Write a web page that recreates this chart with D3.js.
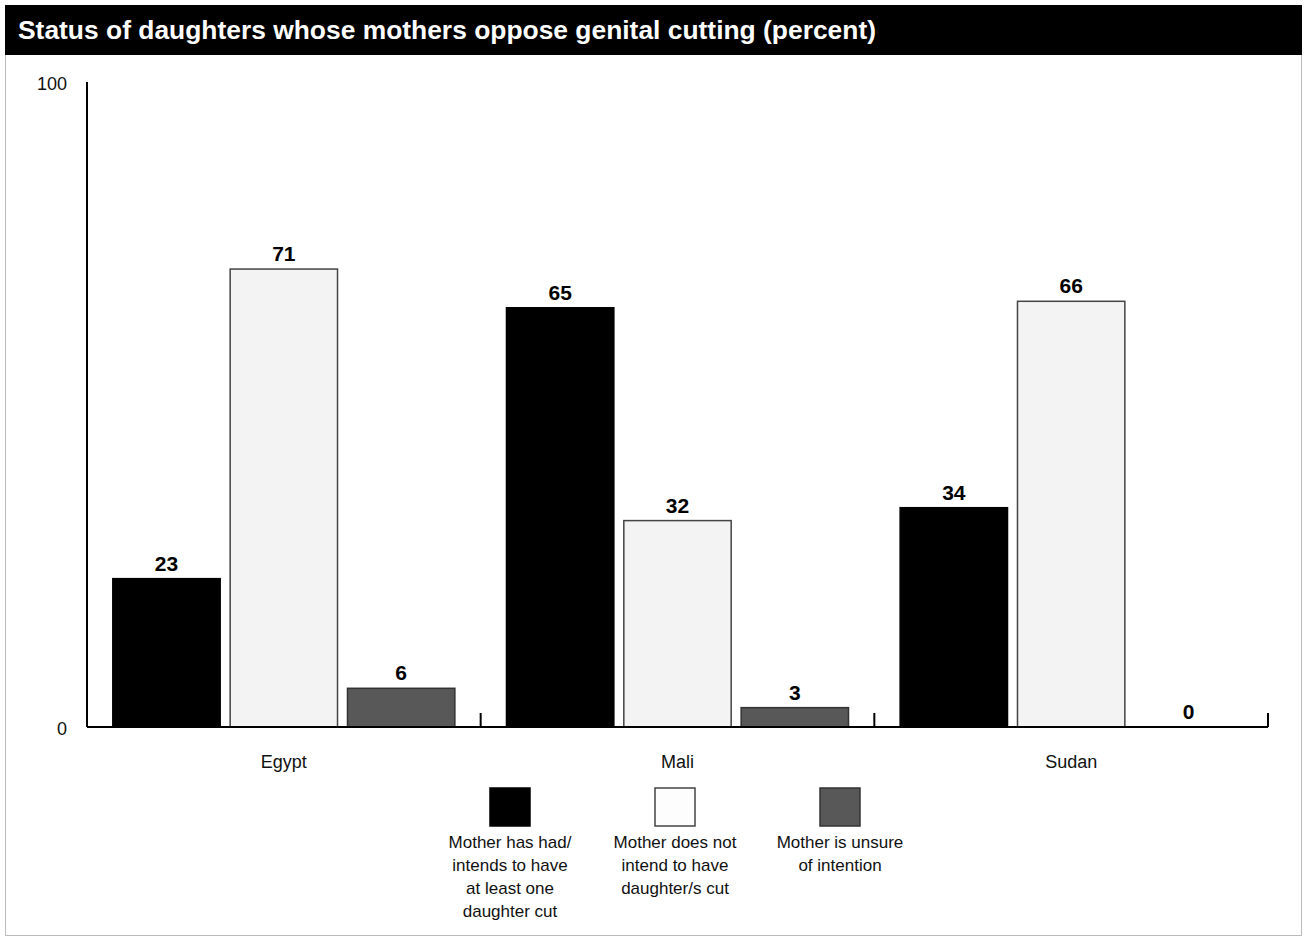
<!DOCTYPE html>
<html><head><meta charset="utf-8">
<script src="https://cdn.jsdelivr.net/npm/d3@7"></script>
<style>body{margin:0;background:#fff;font-family:"Liberation Sans",Arial,sans-serif}</style>
</head><body><svg id="c" width="1310" height="938"></svg>
<script>
const title = "Status of daughters whose mothers oppose genital cutting (percent)";
const categories = ["Egypt", "Mali", "Sudan"];
const seriesKeys = ["had", "notIntend", "unsure"];
const seriesLabels = [
  ["Mother has had/", "intends to have", "at least one", "daughter cut"],
  ["Mother does not", "intend to have", "daughter/s cut"],
  ["Mother is unsure", "of intention"]
];
const hadValues = [23, 65, 34];
const notIntendValues = [71, 32, 66];
const unsureValues = [6, 3, 0];
const yTicks = [0, 100];
const seriesValues = [hadValues, notIntendValues, unsureValues];
const colors = ["#000000", "#f3f3f3", "#585858"];
const strokes = ["#000000", "#444444", "#333333"];

const svg = d3.select("#c");
// frame
svg.append("rect").attr("x", 5.5).attr("y", 5.5).attr("width", 1296).attr("height", 930)
  .attr("fill", "#fff").attr("stroke", "#bbb").attr("stroke-width", 1);
svg.append("rect").attr("x", 5).attr("y", 5).attr("width", 1297).attr("height", 50).attr("fill", "#000");
svg.append("text").attr("x", 18).attr("y", 39).attr("fill", "#fff")
  .attr("font-size", 25).attr("font-weight", "bold")
  .attr("textLength", 858).attr("lengthAdjust", "spacingAndGlyphs").text(title);

const x0 = d3.scaleBand().domain(categories).range([87, 1268]).paddingInner(0).paddingOuter(0);
const x1 = d3.scaleBand().domain(seriesKeys).range([0, x0.bandwidth()]).paddingInner(0.085).paddingOuter(0.22);
const y = d3.scaleLinear().domain([0, 100]).range([727, 82]);

const data = categories.map((c, i) => ({cat: c, vals: seriesKeys.map((k, j) => ({key: k, j, v: seriesValues[j][i]}))}));

const g = svg.append("g");
const groups = g.selectAll("g.grp").data(data).join("g").attr("transform", d => `translate(${x0(d.cat)},0)`);
groups.selectAll("rect").data(d => d.vals.filter(v => v.v > 0)).join("rect")
  .attr("x", d => x1(d.key)).attr("y", d => y(d.v))
  .attr("width", x1.bandwidth()).attr("height", d => y(0) - y(d.v))
  .attr("fill", d => colors[d.j]).attr("stroke", d => strokes[d.j]).attr("stroke-width", 1.5);
groups.selectAll("text").data(d => d.vals).join("text")
  .attr("x", d => x1(d.key) + x1.bandwidth() / 2).attr("y", d => y(d.v) - 8)
  .attr("text-anchor", "middle").attr("font-size", 21).attr("font-weight", "bold").text(d => d.v);

// x axis
const xAxis = d3.axisBottom(x0).tickSize(0).tickPadding(0);
const xg = svg.append("g").attr("transform", `translate(0,${y(0)})`).call(xAxis);
xg.select(".domain").remove();
xg.selectAll("text").attr("font-size", 18).attr("font-family", "Liberation Sans, Arial, sans-serif").attr("dy", "2.25em").attr("fill", "#111");
svg.append("line").attr("x1", 87).attr("x2", 1268).attr("y1", y(0)).attr("y2", y(0)).attr("stroke", "#000").attr("stroke-width", 2);
// group separator ticks
categories.forEach(c => {
  const xe = x0(c) + x0.bandwidth();
  svg.append("line").attr("x1", xe).attr("x2", xe).attr("y1", y(0)).attr("y2", y(0) - 14).attr("stroke", "#000").attr("stroke-width", 2);
});

// y axis
const yAxis = d3.axisLeft(y).tickValues(yTicks).tickSize(0).tickPadding(20);
const yg = svg.append("g").attr("transform", "translate(87,0)").call(yAxis);
yg.select(".domain").remove();
yg.selectAll("text").attr("font-size", 18).attr("font-family", "Liberation Sans, Arial, sans-serif").attr("fill", "#111").attr("dy", "0.4em");
svg.append("line").attr("x1", 87).attr("x2", 87).attr("y1", y(100)).attr("y2", y(0)).attr("stroke", "#000").attr("stroke-width", 2);

// legend
const legendX = d3.scalePoint().domain(seriesKeys).range([510, 840]);
const lg = svg.append("g").selectAll("g").data(seriesKeys).join("g")
  .attr("transform", d => `translate(${legendX(d)},0)`);
lg.append("rect").attr("x", -20).attr("y", 788).attr("width", 40).attr("height", 38)
  .attr("fill", (d, i) => i === 1 ? "#fdfdfd" : colors[i]).attr("stroke", (d, i) => strokes[i]).attr("stroke-width", 1.5);
lg.each(function(d, i) {
  d3.select(this).selectAll("text").data(seriesLabels[i]).join("text")
    .attr("x", 0).attr("y", (t, k) => 848 + k * 23).attr("text-anchor", "middle")
    .attr("font-size", 17).attr("fill", "#111").text(t => t);
});
</script></body></html>
